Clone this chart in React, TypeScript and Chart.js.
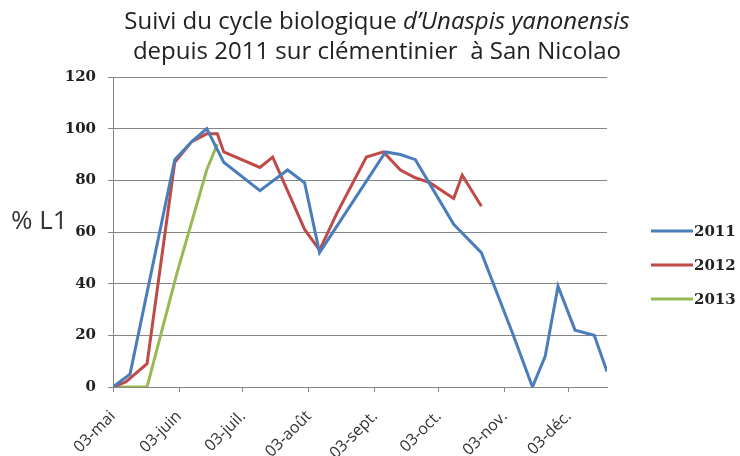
import React, { useEffect, useRef } from "react";
import { Chart, registerables } from "chart.js";

Chart.register(...registerables);

// Days counted from 03-mai
const tickDays = [0, 31, 61, 92, 123, 153, 184, 214];
const tickLabels = ["03-mai", "03-juin", "03-juil.", "03-août", "03-sept.", "03-oct.", "03-nov.", "03-déc."];

const days2011 = [0, 8, 29, 37, 44, 52, 69, 82, 90, 97, 128, 135, 142, 160, 173, 188, 197, 203, 209, 217, 226, 232];
const values2011 = [0, 5, 88, 95, 100, 87, 76, 84, 79, 52, 91, 90, 88, 63, 52, 20, 0, 12, 39, 22, 20, 6];

const days2012 = [0, 6, 16, 29, 37, 44, 49, 52, 69, 75, 90, 97, 105, 119, 127, 135, 142, 149, 160, 164, 173];
const values2012 = [0, 2, 9, 87, 95, 98, 98, 91, 85, 89, 61, 53, 67, 89, 91, 84, 81, 79, 73, 82, 70];

const days2013 = [0, 16, 30, 44, 49];
const values2013 = [0, 0, 44, 84, 94];

const seriesNames = ["2011", "2012", "2013"];
const seriesColors = ["#4A7EBB", "#BE4B48", "#98B954"];

const titleLine1a = "Suivi du cycle biologique ";
const titleLine1b = "d’Unaspis yanonensis";
const titleLine2 = "depuis 2011 sur clémentinier  à San Nicolao";
const yAxisTitle = "% L1";

const toPoints = (xs: number[], ys: number[]) => xs.map((x, i) => ({ x, y: ys[i] }));

const decorPlugin = {
  id: "decor",
  afterDraw(chart: any) {
    const ctx = chart.ctx;
    ctx.save();
    // Title
    const size = 24;
    const titleFont = `${size}px 'Open Sans'`;
    const titleItalic = `italic ${size}px 'Open Sans'`;
    const cx = 377;
    ctx.fillStyle = "#222";
    ctx.textBaseline = "middle";
    ctx.font = titleFont;
    const wa = ctx.measureText(titleLine1a).width;
    ctx.font = titleItalic;
    const wb = ctx.measureText(titleLine1b).width;
    const x0 = cx - (wa + wb) / 2;
    ctx.textAlign = "left";
    ctx.font = titleFont;
    ctx.fillText(titleLine1a, x0, 22);
    ctx.font = titleItalic;
    ctx.fillText(titleLine1b, x0 + wa, 22);
    ctx.font = titleFont;
    ctx.textAlign = "center";
    ctx.fillText(titleLine2, cx, 52);

    // Y axis title
    ctx.font = "26px 'Open Sans'";
    ctx.textAlign = "left";
    ctx.fillStyle = "#333";
    ctx.fillText(yAxisTitle, 11, 222);

    // Legend
    const ys = [231, 265, 299];
    seriesNames.forEach((name, i) => {
      ctx.strokeStyle = seriesColors[i];
      ctx.lineWidth = 3;
      ctx.beginPath();
      ctx.moveTo(651, ys[i]);
      ctx.lineTo(693, ys[i]);
      ctx.stroke();
      ctx.fillStyle = "#222";
      ctx.font = "bold 15px 'DejaVu Serif'";
      ctx.textAlign = "left";
      ctx.textBaseline = "middle";
      ctx.fillText(name, 694, ys[i] + 1);
    });
    ctx.restore();
  },
};

export default function App() {
  const ref = useRef<HTMLCanvasElement>(null);
  useEffect(() => {
    if (!ref.current) return;
    const chart = new Chart(ref.current, {
      type: "line",
      data: {
        datasets: [
          { label: seriesNames[0], data: toPoints(days2011, values2011) },
          { label: seriesNames[1], data: toPoints(days2012, values2012) },
          { label: seriesNames[2], data: toPoints(days2013, values2013) },
        ].map((d, i) => ({
          ...d,
          borderColor: seriesColors[i],
          backgroundColor: seriesColors[i],
          borderWidth: 3,
          pointRadius: 0,
          tension: 0,
          fill: false,
        })),
      },
      options: {
        responsive: false,
        animation: false,
        layout: { padding: { left: 0, right: 133, top: 77, bottom: 0 } },
        plugins: {
          legend: { display: false },
          title: { display: false },
          tooltip: { enabled: false },
        },
        scales: {
          x: {
            type: "linear",
            min: 0,
            max: 232,
            afterBuildTicks: (scale: any) => {
              scale.ticks = tickDays.map((v) => ({ value: v }));
            },
            afterFit: (scale: any) => {
              scale.height = 69;
            },
            ticks: {
              autoSkip: false,
              minRotation: 45,
              maxRotation: 45,
              padding: 15,
              color: "#333",
              font: { family: "'Open Sans'", size: 16 },
              callback: (_v: any, i: number) => tickLabels[i],
            },
            grid: {
              display: true,
              drawOnChartArea: false,
              drawTicks: true,
              tickLength: 5,
              color: "#868686",
            },
            border: { display: true, color: "#868686", width: 1 },
          },
          y: {
            min: 0,
            max: 120,
            afterFit: (scale: any) => {
              scale.width = 113;
            },
            ticks: {
              stepSize: 20,
              padding: 12,
              color: "#222",
              font: { family: "'DejaVu Serif'", size: 15, weight: "bold" },
            },
            grid: {
              color: "#868686",
              lineWidth: 1,
              drawTicks: true,
              tickLength: 5,
            },
            border: { display: true, color: "#868686", width: 1 },
          },
        },
      },
      plugins: [decorPlugin],
    } as any);
    return () => chart.destroy();
  }, []);
  return (
    <div style={{ position: "fixed", left: 0, top: 0, width: 740, height: 456, background: "#fff" }}>
      <canvas ref={ref} width={740} height={456} style={{ display: "block" }} />
    </div>
  );
}
